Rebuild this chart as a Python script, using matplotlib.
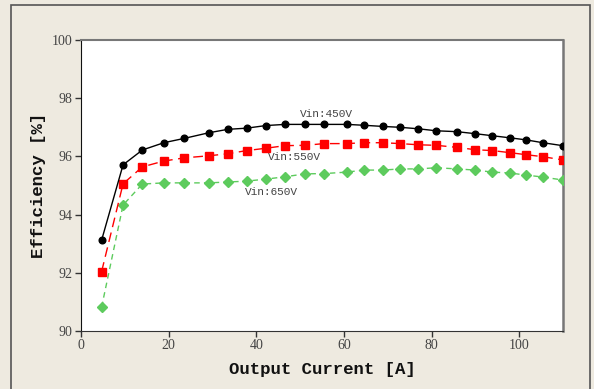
import matplotlib
matplotlib.use("Agg")
import matplotlib.pyplot as plt
import matplotlib.patches as mpatches

# 出力電流 [A]
current = [4.7, 9.6, 14.0, 18.9, 23.6, 29.1, 33.5, 37.8, 42.2, 46.6, 51.1, 55.5,
           60.7, 64.5, 68.9, 72.8, 76.9, 81.1, 85.8, 90.0, 93.9, 97.8, 101.5,
           105.4, 109.9]

# 効率 [%]
eff_450 = [93.12, 95.71, 96.22, 96.47, 96.62, 96.81, 96.93, 96.97, 97.06, 97.10,
           97.10, 97.10, 97.10, 97.07, 97.03, 97.00, 96.95, 96.88, 96.85, 96.78,
           96.71, 96.64, 96.57, 96.47, 96.37]
eff_550 = [92.04, 95.06, 95.64, 95.84, 95.95, 96.02, 96.09, 96.20, 96.28, 96.37,
           96.38, 96.44, 96.44, 96.47, 96.47, 96.44, 96.40, 96.38, 96.31, 96.23,
           96.20, 96.13, 96.06, 95.99, 95.88]
eff_650 = [90.82, 94.33, 95.05, 95.09, 95.09, 95.09, 95.12, 95.15, 95.22, 95.30,
           95.40, 95.41, 95.46, 95.53, 95.53, 95.57, 95.57, 95.61, 95.57, 95.53,
           95.46, 95.43, 95.36, 95.29, 95.19]

labels = ["Vin:450V", "Vin:550V", "Vin:650V"]
label_pos = [(56.0, 97.45), (48.7, 95.98), (43.4, 94.78)]

BG = "#eeeae0"
SERIF = ["Liberation Serif", "DejaVu Serif"]
MONO = ["Liberation Mono", "DejaVu Sans Mono"]

W, H = 594, 389
fig = plt.figure(figsize=(W / 100, H / 100), dpi=100)
fig.patch.set_facecolor(BG)

# 外枠
fig.patches.append(mpatches.Rectangle((11 / W, -0.05), (590 - 11) / W, 1.05 - 5 / H,
                                      transform=fig.transFigure, fill=False,
                                      edgecolor="#555555", linewidth=1.2))

ax = fig.add_axes([81 / W, 1 - 331 / H, (563 - 81) / W, (331 - 40) / H])
ax.set_facecolor("white")

ax.plot(current, eff_450, color="black", linestyle="-", linewidth=1.0,
        marker="o", markersize=4.8, zorder=5)
ax.plot(current, eff_550, color="#ff0000", linestyle=(0, (7, 4)), linewidth=1.0,
        marker="s", markersize=5.2, zorder=4)
ax.plot(current, eff_650, color="#5dcb5d", linestyle=(0, (4, 3)), linewidth=1.0,
        marker="D", markersize=5.0, zorder=3)

for txt, (x, y) in zip(labels, label_pos):
    ax.text(x, y, txt, ha="center", va="center", fontsize=8,
            family=MONO, color="#444444")

ax.set_xlim(0, 110)
ax.set_ylim(90, 100)
ax.set_xticks([0, 20, 40, 60, 80, 100])
ax.set_yticks([90, 92, 94, 96, 98, 100])

ax.spines["left"].set_color("#111111")
ax.spines["bottom"].set_color("#333333")
ax.spines["top"].set_color("#777777")
ax.spines["right"].set_color("#777777")
ax.spines["right"].set_linewidth(1.8)
ax.spines["top"].set_linewidth(1.5)

ax.tick_params(direction="out", length=4, width=1, colors="#333333",
               labelsize=10, pad=2)
for lab in ax.get_xticklabels() + ax.get_yticklabels():
    lab.set_family(SERIF)
    lab.set_color("#444444")

ax.set_xlabel("Output Current [A]", fontsize=12.5, fontweight="bold",
              family=MONO, color="#111111", labelpad=7)
ax.set_ylabel("Efficiency [%]", fontsize=12.5, fontweight="bold",
              family=MONO, color="#111111", labelpad=4)

fig.savefig("out.png", dpi=100, facecolor=BG)
